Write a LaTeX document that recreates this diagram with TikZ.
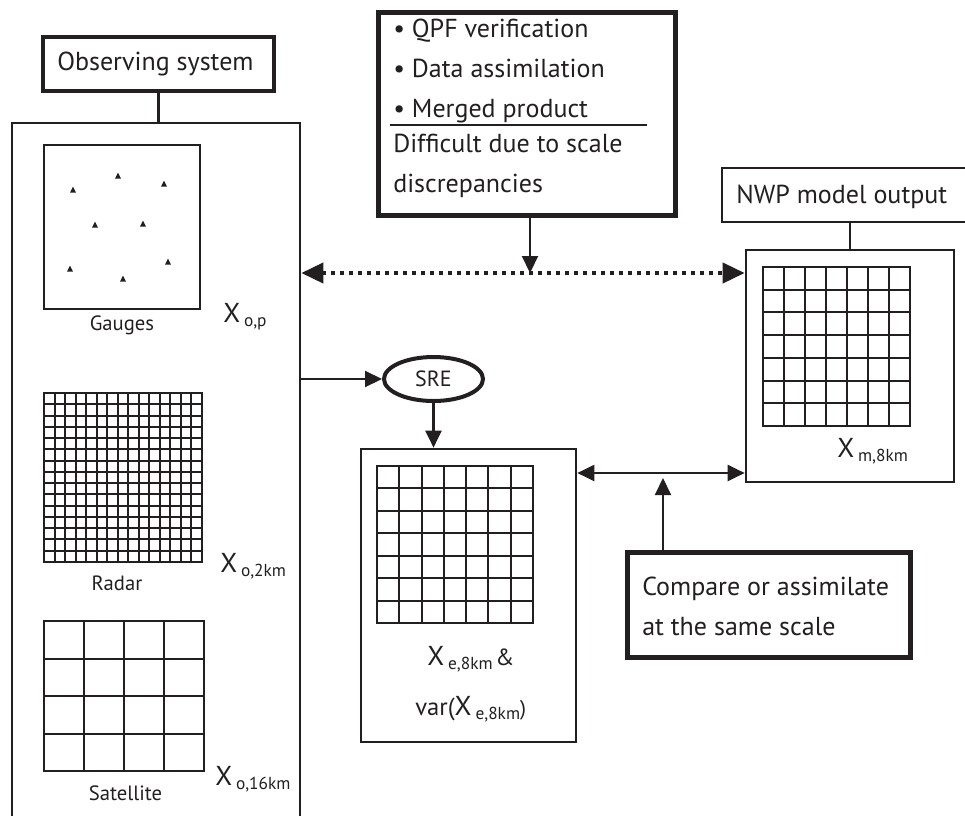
\documentclass[tikz,border=0pt]{standalone}
\usepackage{fontspec}
\setmainfont{PT Sans}
\usetikzlibrary{arrows.meta,shapes.geometric}
\definecolor{ink}{RGB}{35,31,32}
\newcommand\Xs[1]{{\fontsize{20.5}{20.5}\selectfont X}\hspace{3pt}\raisebox{-3pt}{\fontsize{13}{13}\selectfont #1}}
\begin{document}
\begin{tikzpicture}[x=0.75pt,y=-0.75pt,
  thinbox/.style={draw=ink, line width=2pt, inner sep=0, rectangle},
  thickbox/.style={draw=ink, line width=3.4pt, inner sep=0, rectangle},
  gridline/.style={draw=ink, line width=1.5pt},
  arr/.style={draw=ink, line width=1.6pt, -{Triangle[length=12.75pt,width=12pt]}},
  darr/.style={draw=ink, line width=1.6pt, {Triangle[length=12.75pt,width=12pt]}-{Triangle[length=12.75pt,width=12pt]}},
  dotarr/.style={draw=ink, line width=3pt, dash pattern=on 3pt off 3.75pt, {Triangle[length=16.5pt,width=15pt]}-{Triangle[length=16.5pt,width=15pt]}},
  lbl/.style={text=ink, inner sep=0, anchor=base west, font=\fontsize{19.5}{19.5}\selectfont},
  small/.style={text=ink, inner sep=0, anchor=base, font=\fontsize{15.5}{15.5}\selectfont},
  xlab/.style={text=ink, inner sep=0, anchor=base west}]
\useasboundingbox (0,0) rectangle (965,815);

% observing system
\node[thickbox, line width=3pt, minimum width=231*0.75pt, minimum height=54*0.75pt] (obs) at (158.5,64) {};
\node[lbl] (obst) at (57,70) {Observing system};
\node[thinbox, minimum width=288*0.75pt, minimum height=717*0.75pt] (obsbox) at (156,481.5) {};
\draw[ink, line width=2pt] (obs.south) -- (obs.south |- obsbox.north);

% gauges
\node[thinbox, minimum width=156*0.75pt, minimum height=164*0.75pt] (gauges) at (122,227) {};
\foreach \px/\py in {73/190,118/176,164/184,95/225,143/224,70/269,123/279,168/262}
  \fill[ink] (\px-3,\py+2.5) -- (\px+3,\py+2.5) -- (\px,\py-3.5) -- cycle;
\node[small] (gaugest) at (122,330) {Gauges};
\node[xlab] (xop) at (223,322) {\Xs{o,p}};

% radar
\node[thinbox, line width=1.5pt, minimum width=158*0.75pt, minimum height=169*0.75pt] (radar) at (123,477.5) {};
\foreach \i in {1,...,14} {
  \draw[gridline] ({44+\i*158/15},393) -- ({44+\i*158/15},562);
  \draw[gridline] (44,{393+\i*169/15}) -- (202,{393+\i*169/15});
}
\node[small] (radart) at (117,590) {Radar};
\node[xlab] (xo2) at (220,572) {\Xs{o,2km}};

% satellite
\node[thinbox, line width=1.5pt, minimum width=160*0.75pt, minimum height=150*0.75pt] (sat) at (124,696) {};
\foreach \i in {1,...,3} {
  \draw[gridline] ({44+\i*160/4},621) -- ({44+\i*160/4},771);
  \draw[gridline] (44,{621+\i*150/4}) -- (204,{621+\i*150/4});
}
\node[small] (satt) at (125.5,800) {Satellite};
\node[xlab] (xo16) at (215,785) {\Xs{o,16km}};

% top box
\node[thickbox, line width=4pt, minimum width=297*0.75pt, minimum height=203*0.75pt] (top) at (527,114) {};
\node[lbl] (t1) at (393,37) {• QPF verification};
\node[lbl] (t2) at (393,77) {• Data assimilation};
\node[lbl] (t3) at (393,117) {• Merged product};
\coordinate (rl) at (390,125);
\coordinate (rr) at (647,125);
\draw[ink, line width=1pt] (rl) -- (rr);
\node[lbl] (t4) at (393,152) {Difficult due to scale};
\node[lbl] (t5) at (393,192) {discrepancies};

% NWP
\node[thinbox, minimum width=278*0.75pt, minimum height=54*0.75pt] (nwp) at (861,195) {};
\node[lbl] (nwpt) at (736,203) {NWP model output};
\node[thinbox, minimum width=208*0.75pt, minimum height=232*0.75pt] (model) at (850,366) {};
\draw[ink, line width=2pt] (model.north) -- (model.north |- nwp.south);
\node[thinbox, line width=1.5pt, minimum width=147*0.75pt, minimum height=159*0.75pt] (mgrid) at (836.5,346.5) {};
\foreach \i in {1,...,6} {
  \draw[gridline] ({763+\i*147/7},267) -- ({763+\i*147/7},426);
  \draw[gridline] (763,{267+\i*159/7}) -- (910,{267+\i*159/7});
}
\node[xlab] (xm8) at (837,457) {\Xs{m,8km}};

% SRE
\node[ellipse, draw=ink, line width=3pt, minimum width=99*0.75pt, minimum height=44*0.75pt, inner sep=0, text=ink, font=\fontsize{16.5}{16.5}\selectfont] (sre) at (433.5,379) {SRE};

% middle box
\node[thinbox, minimum width=215*0.75pt, minimum height=293*0.75pt] (mid) at (468.5,595.5) {};
\node[thinbox, line width=1.5pt, minimum width=156*0.75pt, minimum height=157*0.75pt] (egrid) at (455,544.5) {};
\foreach \i in {1,...,6} {
  \draw[gridline] ({377+\i*156/7},466) -- ({377+\i*156/7},623);
  \draw[gridline] (377,{466+\i*157/7}) -- (533,{466+\i*157/7});
}
\node[xlab] (xe8) at (427,665) {\Xs{e,8km}\hspace{2pt}{\fontsize{17.5}{17.5}\selectfont\&}};
\node[xlab] (varx) at (415,715) {{\fontsize{18.5}{18.5}\selectfont var(}\Xs{e,8km}{\fontsize{16}{16}\selectfont)}};

% compare box
\node[thickbox, line width=3.8pt, minimum width=283*0.75pt, minimum height=105*0.75pt] (cmp) at (769,605) {};
\node[lbl] (c1) at (642,595) {Compare or assimilate};
\node[lbl] (c2) at (642,635) {at the same scale};

% connectors
\coordinate (dotY) at (530,273);
\coordinate (rowY) at (663,473);
\coordinate (meet) at (663,478);
\draw[dotarr] (obsbox.east |- dotY) -- (model.west |- dotY);
\draw[arr] (top.south -| dotY) -- (dotY);
\draw[arr] (obsbox.east |- sre.west) -- (sre.west);
\draw[arr] (sre.south) -- (sre.south |- mid.north);
\draw[darr] (mid.east |- rowY) -- (model.west |- rowY);
\draw[arr] (meet |- cmp.north) -- (meet);
\end{tikzpicture}
\end{document}
